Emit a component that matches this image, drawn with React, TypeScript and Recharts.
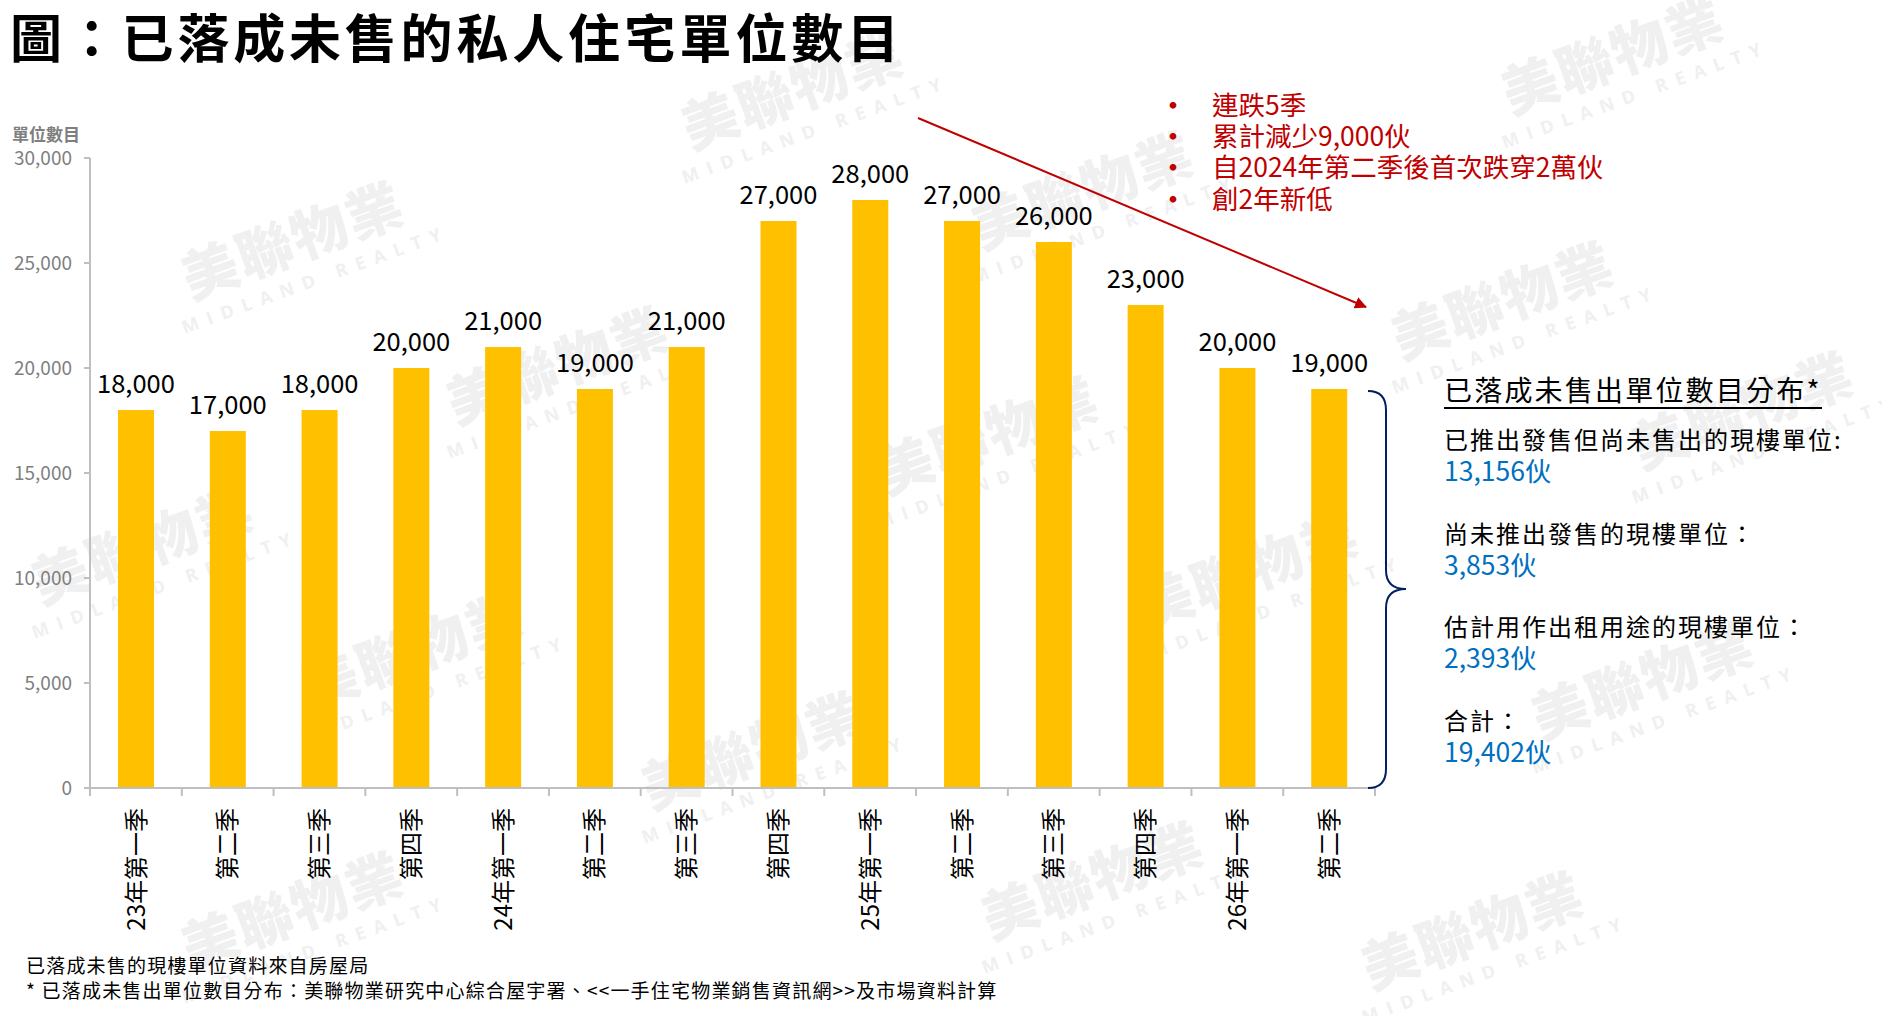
import React from 'react';
import { BarChart, Bar, XAxis, YAxis, LabelList } from 'recharts';

// 已落成未售的私人住宅單位數目 (units)
const quarters = [
  '23年第一季', '第二季', '第三季', '第四季',
  '24年第一季', '第二季', '第三季', '第四季',
  '25年第一季', '第二季', '第三季', '第四季',
  '26年第一季', '第二季',
];
const unsoldUnits = [
  18000, 17000, 18000, 20000,
  21000, 19000, 21000, 27000,
  28000, 27000, 26000, 23000,
  20000, 19000,
];
const yTicks = [0, 5000, 10000, 15000, 20000, 25000, 30000];

const highlights = ['連跌5季', '累計減少9,000伙', '自2024年第二季後首次跌穿2萬伙', '創2年新低'];
const breakdownTitle = '已落成未售出單位數目分布*';
const breakdownLabels = [
  '已推出發售但尚未售出的現樓單位:',
  '尚未推出發售的現樓單位：',
  '估計用作出租用途的現樓單位：',
  '合計：',
];
const breakdownValues = ['13,156伙', '3,853伙', '2,393伙', '19,402伙'];
const footnotes = [
  '已落成未售的現樓單位資料來自房屋局',
  '* 已落成未售出單位數目分布：美聯物業研究中心綜合屋宇署、<<一手住宅物業銷售資訊網>>及市場資料計算',
];

const data = quarters.map((q, i) => ({ key: `q${i}`, label: q, units: unsoldUnits[i] }));

const W = 1882;
const H = 1016;
const PLOT_LEFT = 90;
const PLOT_RIGHT = 1375;
const PLOT_TOP = 158;
const PLOT_BOTTOM = 788;
const BAND = (PLOT_RIGHT - PLOT_LEFT) / quarters.length;

const FONT = "'Noto Sans CJK TC', 'Noto Sans', sans-serif";
const AXIS_GREY = '#BFBFBF';
const RED = '#C00000';
const BLUE = '#0070C0';

// watermark centres (approx, purely decorative)
const marks = [
  [800, 110], [1620, 75], [300, 260], [1090, 210], [1510, 320],
  [565, 385], [995, 455], [1750, 430], [150, 565], [1255, 590],
  [420, 670], [1650, 700], [760, 770], [1100, 900], [300, 930], [1480, 950],
];

function QuarterTick(props: any) {
  const { x, index } = props;
  const left = x - BAND / 2;
  const isLast = index === quarters.length - 1;
  return (
    <g>
      <line x1={left} x2={left} y1={PLOT_BOTTOM} y2={PLOT_BOTTOM + 8} stroke={AXIS_GREY} strokeWidth={2} />
      {isLast && (
        <line x1={left + BAND} x2={left + BAND} y1={PLOT_BOTTOM} y2={PLOT_BOTTOM + 8} stroke={AXIS_GREY} strokeWidth={2} />
      )}
      <text
        x={x}
        y={PLOT_BOTTOM + 20}
        dy="0.36em"
        textAnchor="end"
        transform={`rotate(-90 ${x} ${PLOT_BOTTOM + 20})`}
        fontSize={24}
        fill="#000"
        fontFamily={FONT}
      >
        {quarters[index]}
      </text>
    </g>
  );
}

export default function App() {
  return (
    <div style={{ position: 'relative', width: W, height: H, background: '#fff', fontFamily: FONT, overflow: 'hidden' }}>
      <style>{'body{margin:0}'}</style>

      <svg width={W} height={H} style={{ position: 'absolute', left: 0, top: 0, pointerEvents: 'none' }}>
        {marks.map(([cx, cy], i) => (
          <g key={i} transform={`rotate(-20 ${cx} ${cy})`}>
            <text x={cx} y={cy} textAnchor="middle" fontSize={56} fontWeight={900} fill="#f0f0f0" fontFamily={FONT} letterSpacing={2}>
              美聯物業
            </text>
            <text x={cx + 8} y={cy + 30} textAnchor="middle" fontSize={18} fontWeight={700} fill="#f0f0f0" fontFamily="'Open Sans', sans-serif" letterSpacing={9}>
              MIDLAND REALTY
            </text>
          </g>
        ))}
      </svg>

      <div style={{ position: 'absolute', left: 10, top: 5, fontSize: 52, lineHeight: '62px', fontWeight: 700, letterSpacing: 3.8, color: '#000', whiteSpace: 'nowrap' }}>
        圖：已落成未售的私人住宅單位數目
      </div>

      <div style={{ position: 'absolute', left: 12, top: 122, fontSize: 17, lineHeight: '24px', fontWeight: 700, color: '#7F7F7F' }}>
        單位數目
      </div>

      <div style={{ position: 'absolute', left: 0, top: 0 }}>
        <BarChart
          width={W}
          height={H}
          data={data}
          margin={{ top: PLOT_TOP, right: W - PLOT_RIGHT, bottom: 0, left: 0 }}
          style={{ fontFamily: FONT }}
        >
          <YAxis
            width={PLOT_LEFT}
            domain={[0, 30000]}
            ticks={yTicks}
            interval={0}
            axisLine={{ stroke: AXIS_GREY, strokeWidth: 2 }}
            tickLine={{ stroke: AXIS_GREY, strokeWidth: 2 }}
            tickSize={6}
            tickMargin={12}
            tick={{ fontSize: 19, fill: '#7F7F7F' }}
            tickFormatter={(v: number) => v.toLocaleString('en-US')}
          />
          <XAxis
            dataKey="key"
            height={H - PLOT_BOTTOM}
            interval={0}
            axisLine={{ stroke: AXIS_GREY, strokeWidth: 2 }}
            tickLine={false}
            tick={<QuarterTick />}
          />
          <Bar dataKey="units" fill="#FFC000" barSize={36} isAnimationActive={false}>
            <LabelList
              dataKey="units"
              position="top"
              offset={17}
              fontSize={25.5}
              fill="#000"
              formatter={(v: any) => Number(v).toLocaleString('en-US')}
            />
          </Bar>
        </BarChart>
      </div>

      <svg width={W} height={H} style={{ position: 'absolute', left: 0, top: 0, pointerEvents: 'none' }}>
        <defs>
          <marker id="ah" markerWidth="12" markerHeight="12" refX="11" refY="6" orient="auto" markerUnits="userSpaceOnUse">
            <path d="M0,0 L12,6 L0,12 Z" fill={RED} />
          </marker>
        </defs>
        <line x1={918} y1={118} x2={1366} y2={307} stroke={RED} strokeWidth={2} markerEnd="url(#ah)" />
        <path
          d="M1368,391 Q1386,391 1386,410 L1386,570 Q1386,589 1406,589 Q1386,589 1386,608 L1386,769 Q1386,788 1368,788"
          fill="none"
          stroke="#002060"
          strokeWidth={2}
        />
      </svg>

      <div style={{ position: 'absolute', left: 1160, top: 88, color: RED, fontSize: 26.5, lineHeight: '31.2px', whiteSpace: 'nowrap' }}>
        {highlights.map((h) => (
          <div key={h} style={{ display: 'flex' }}>
            <span style={{ width: 52, fontSize: 26, fontWeight: 700 }}>•</span>
            <span>{h}</span>
          </div>
        ))}
      </div>

      <div style={{ position: 'absolute', left: 1444, top: 372, whiteSpace: 'nowrap' }}>
        <div style={{ display: 'inline-block', fontSize: 28, lineHeight: '35px', letterSpacing: 2.2, color: '#000', borderBottom: '2px solid #000' }}>
          {breakdownTitle}
        </div>
      </div>

      <div style={{ position: 'absolute', left: 1444, top: 423, whiteSpace: 'nowrap' }}>
        {breakdownLabels.map((lab, i) => (
          <div key={lab} style={{ height: 93.7 }}>
            <div style={{ fontSize: 24, lineHeight: '31px', letterSpacing: 2, color: '#000' }}>{lab}</div>
            <div style={{ fontSize: 26.5, lineHeight: '31px', color: BLUE }}>{breakdownValues[i]}</div>
          </div>
        ))}
      </div>

      <div style={{ position: 'absolute', left: 26, top: 952, fontSize: 19, lineHeight: '25px', letterSpacing: 1.2, color: '#000', whiteSpace: 'nowrap' }}>
        {footnotes.map((f) => (
          <div key={f}>{f}</div>
        ))}
      </div>
    </div>
  );
}
